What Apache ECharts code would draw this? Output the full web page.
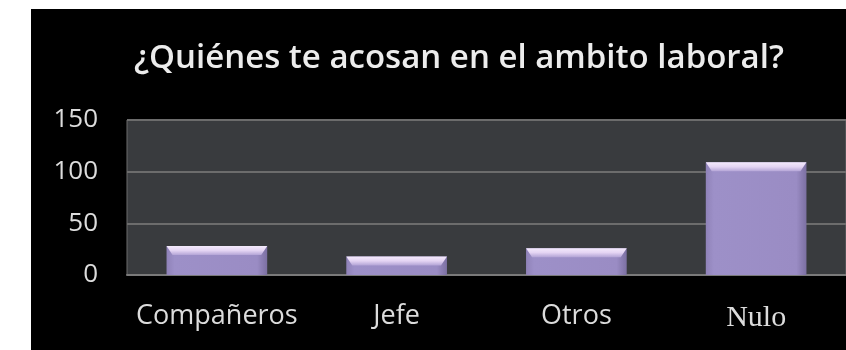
<!DOCTYPE html>
<html>
<head>
<meta charset="utf-8">
<script src="https://cdn.jsdelivr.net/npm/echarts@6/dist/echarts.min.js"></script>
<style>
  html, body { margin: 0; padding: 0; background: #ffffff; }
  #chart { position: absolute; left: 31px; top: 9px; width: 815px; height: 341px; background: #000000; }
</style>
</head>
<body>
<div id="chart"></div>
<script>
// Survey answers: who harasses you at work
const titleText = '¿Quiénes te acosan en el ambito laboral?';
const categories = ['Compañeros', 'Jefe', 'Otros', 'Nulo'];
const counts = [28, 18, 26, 109];
const yTicks = { min: 0, max: 150, interval: 50 };

const chart = echarts.init(document.getElementById('chart'));

// Light bevel on top of each bar, built from the bar value through the axes
function renderBevel(params, api) {
  const idx = api.value(0);
  const val = api.value(1);
  const top = api.coord([idx, val]);
  const size = api.size([1, 0]);
  const barW = size[0] * 0.56;
  const x0 = top[0] - barW / 2;
  const x1 = top[0] + barW / 2;
  const h = 9;
  const inset = 6;
  return {
    type: 'polygon',
    shape: { points: [[x0, top[1]], [x1, top[1]], [x1 - inset, top[1] + h], [x0 + inset, top[1] + h]] },
    style: {
      fill: new echarts.graphic.LinearGradient(0, 0, 0, 1, [
        { offset: 0, color: '#f4eafc' },
        { offset: 0.5, color: '#e4d4f3' },
        { offset: 1, color: '#b3a4d6' }
      ])
    }
  };
}

chart.setOption({
  backgroundColor: '#000000',
  animation: false,
  title: {
    text: titleText,
    left: 423,
    top: 28,
    textAlign: 'center',
    textStyle: {
      color: '#ececec',
      fontFamily: 'Open Sans',
      fontWeight: 600,
      fontSize: 33
    }
  },
  grid: { left: 96, right: 0, top: 111, bottom: 75, show: true, backgroundColor: '#393b3e', borderColor: '#6c6c6c', borderWidth: 1 },
  xAxis: {
    type: 'category',
    data: categories,
    axisLine: { show: true, lineStyle: { color: '#7a7a7a', width: 2 } },
    axisTick: { show: false },
    axisLabel: {
      interval: 0,
      color: '#dcdcdc',
      fontSize: 27,
      margin: 28,
      fontFamily: 'Open Sans',
      formatter: function (v) { return v === 'Nulo' ? '{serif|' + v + '}' : v; },
      rich: { serif: { fontFamily: 'Liberation Serif', fontSize: 30, color: '#dcdcdc' } }
    }
  },
  yAxis: {
    type: 'value',
    min: yTicks.min,
    max: yTicks.max,
    interval: yTicks.interval,
    axisLine: { show: false },
    axisTick: { show: false },
    axisLabel: { color: '#dcdcdc', fontSize: 26, margin: 29, fontFamily: 'Open Sans' },
    splitLine: { lineStyle: { color: '#6c6c6c', width: 2 } }
  },
  series: [
    {
      type: 'bar',
      data: counts,
      barWidth: '56%',
      itemStyle: {
        color: new echarts.graphic.LinearGradient(0, 0, 1, 0, [
          { offset: 0, color: '#8f82b8' },
          { offset: 0.08, color: '#9d90c8' },
          { offset: 0.9, color: '#9a8cc4' },
          { offset: 1, color: '#7c70a2' }
        ])
      }
    },
    {
      type: 'custom',
      renderItem: renderBevel,
      data: counts.map(function (v, i) { return [i, v]; }),
      z: 5
    }
  ]
});
</script>
</body>
</html>
